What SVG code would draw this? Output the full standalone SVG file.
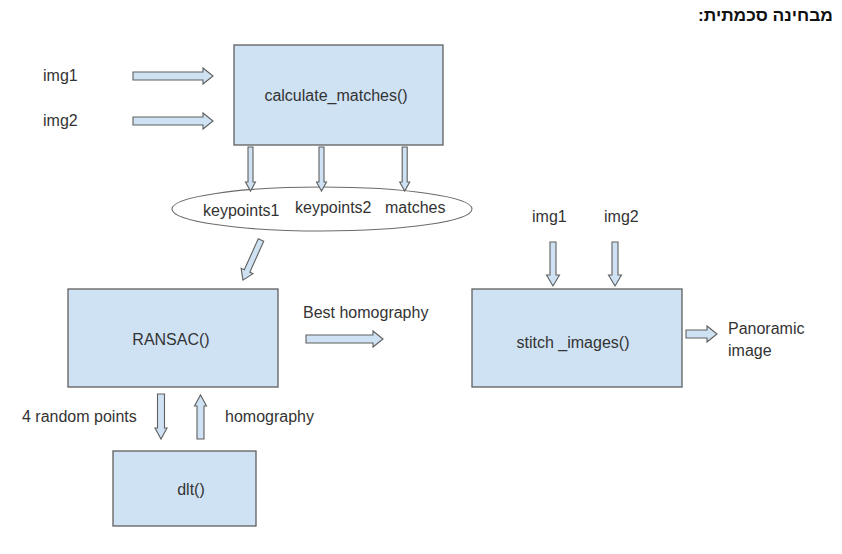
<svg xmlns="http://www.w3.org/2000/svg" width="842" height="554" viewBox="0 0 842 554">
<style>
  text { font-family: "Liberation Sans", Arial, sans-serif; font-size: 16px; fill: #333; }
  .box { fill: #cfe2f3; stroke: #5f5f5f; stroke-width: 1.3; }
  .arr { fill: #cfe2f3; stroke: #5f5f5f; stroke-width: 1.1; stroke-linejoin: miter; }
  .ell { fill: #ffffff; stroke: #6b6b6b; stroke-width: 1.1; }
  .mid { text-anchor: middle; }
  .title { font-weight: bold; font-size: 16.5px; fill: #111; }
</style>
<rect width="842" height="554" fill="#ffffff"/>
<text class="title" x="833" y="21" direction="rtl" text-anchor="start" textLength="135" lengthAdjust="spacingAndGlyphs">מבחינה סכמתית:</text>

<g id="in-img1"><text x="43" y="81">img1</text></g>
<g id="in-img2"><text x="43" y="126">img2</text></g>

<g id="calculate_matches">
  <rect class="box" x="234" y="45" width="209" height="100"/>
  <text class="mid" x="336" y="101">calculate_matches()</text>
</g>

<g id="outputs">
  <ellipse class="ell" cx="322" cy="209" rx="150" ry="22"/>
  <text x="203" y="216">keypoints1</text>
  <text x="295" y="213">keypoints2</text>
  <text x="385" y="213">matches</text>
</g>

<g id="ransac">
  <rect class="box" x="68" y="289" width="210" height="98"/>
  <text class="mid" x="171" y="345">RANSAC()</text>
</g>

<g id="dlt">
  <rect class="box" x="113" y="451" width="143" height="75"/>
  <text class="mid" x="191" y="495">dlt()</text>
</g>

<g id="stitch_images">
  <rect class="box" x="472" y="289" width="210" height="98"/>
  <text class="mid" x="573" y="348">stitch _images()</text>
</g>

<g id="labels">
  <text x="303" y="318">Best homography</text>
  <text x="532" y="222">img1</text>
  <text x="604" y="222">img2</text>
  <text x="728" y="334">Panoramic</text>
  <text x="728" y="356">image</text>
  <text x="22" y="422">4 random points</text>
  <text x="225" y="422">homography</text>
</g>

<g id="connectors">
  <path class="arr" d="M133,72 H203 V68 L213,76 L203,84 V80 H133 Z"/>
  <path class="arr" d="M133,117 H203 V113 L213,121 L203,129 V125 H133 Z"/>
  <path class="arr" d="M248,147 V182 H245.5 L250.5,191 L255.5,182 H253 V147 Z"/>
  <path class="arr" d="M319,147 V182 H316.5 L321.5,191 L326.5,182 H324 V147 Z"/>
  <path class="arr" d="M402.2,147 V182 H399.7 L404.7,191 L409.7,182 H407.2 V147 Z"/>
  <path class="arr" transform="translate(261,240) rotate(114.2)" d="M0,-3 H34 V-6.5 L44,0 L34,6.5 V3 H0 Z"/>
  <path class="arr" d="M306,335 H373 V331 L383,339 L373,347 V343 H306 Z"/>
  <path class="arr" d="M550,242 V275 H546.5 L553,286 L559.5,275 H556 V242 Z"/>
  <path class="arr" d="M612,242 V275 H608.5 L615,286 L621.5,275 H618 V242 Z"/>
  <path class="arr" d="M686,330 H707 V326 L717,334 L707,342 V338 H686 Z"/>
  <path class="arr" d="M157.5,394 V428 H155 L161,439 L167,428 H164.5 V394 Z"/>
  <path class="arr" d="M197,439 V406 H194.5 L200.5,395 L206.5,406 H204 V439 Z"/>
</g>
</svg>
